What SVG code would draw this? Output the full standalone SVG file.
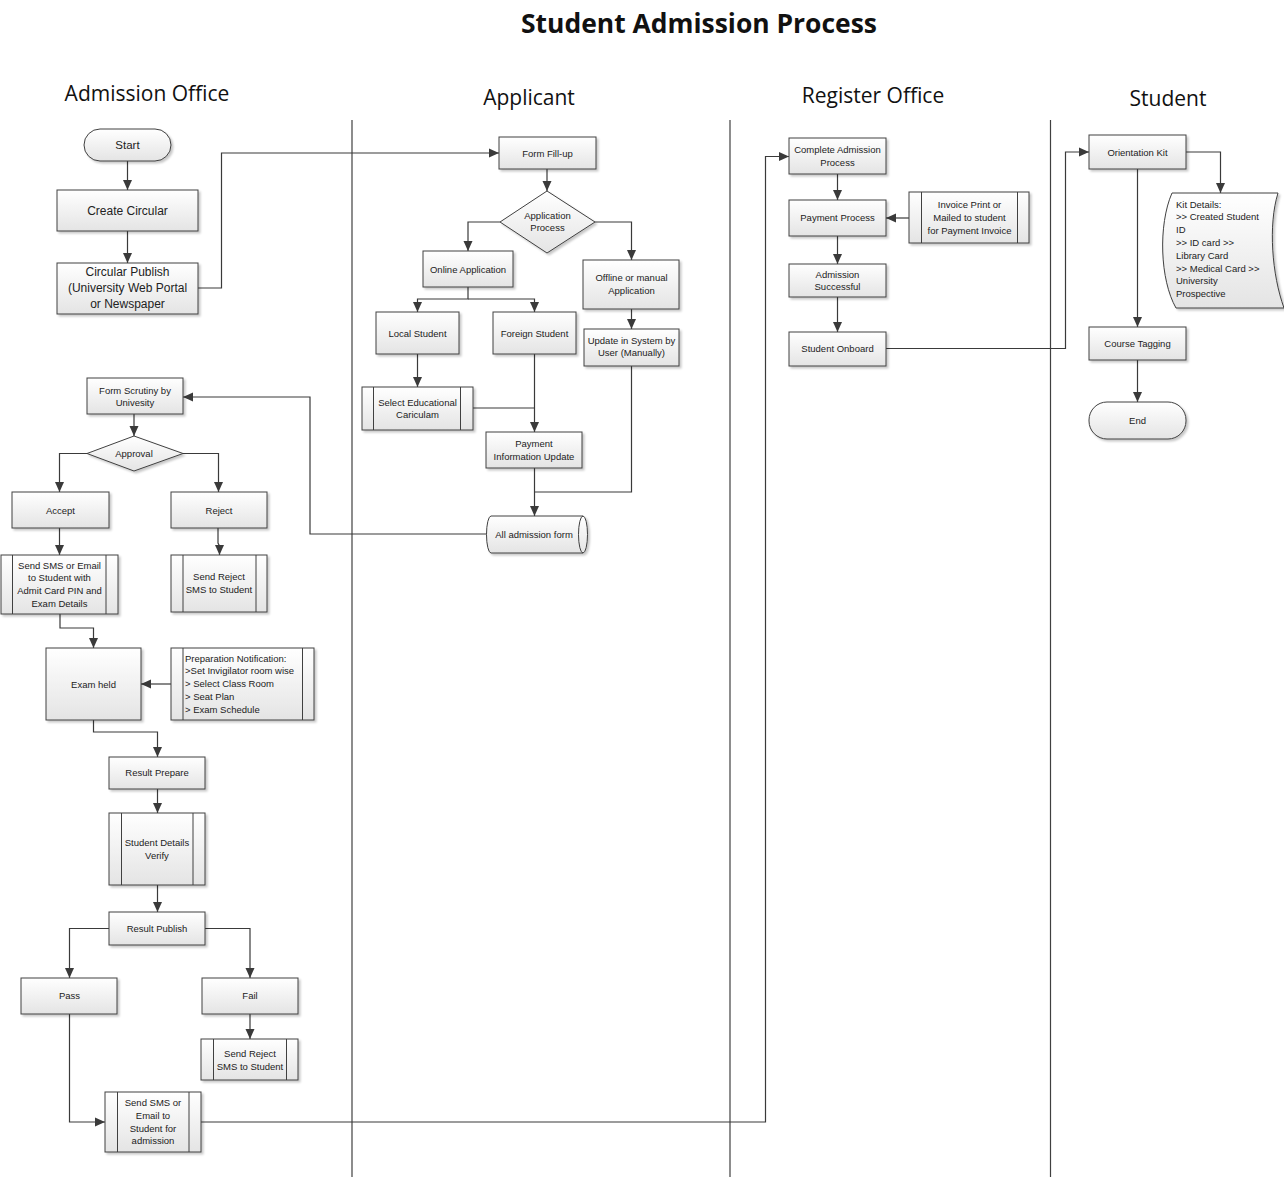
<svg xmlns="http://www.w3.org/2000/svg" width="1284" height="1179" viewBox="0 0 1284 1179">
<defs>
<linearGradient id="g" x1="0" y1="0" x2="0" y2="1">
<stop offset="0" stop-color="#ffffff"/>
<stop offset="1" stop-color="#e4e4e4"/>
</linearGradient>
<filter id="sh" x="-10%" y="-10%" width="130%" height="130%">
<feDropShadow dx="2" dy="2" stdDeviation="1" flood-color="#000" flood-opacity="0.22"/>
</filter>
<marker id="ah" markerWidth="10" markerHeight="10" refX="10" refY="5" orient="auto" markerUnits="userSpaceOnUse">
<path d="M0,0.5 L10,5 L0,9.5 z" fill="#3a3a3a"/>
</marker>
</defs>
<style>
.n{fill:url(#g);stroke:#404040;stroke-width:1;filter:url(#sh);}
.il{stroke:#404040;stroke-width:1;fill:none;}
.t{font-family:"Liberation Sans",Arial,sans-serif;font-size:9.5px;fill:#222;text-anchor:middle;}
.tl{font-family:"Liberation Sans",Arial,sans-serif;font-size:9.5px;fill:#222;text-anchor:start;}
.c{fill:none;stroke:#3a3a3a;stroke-width:1.2;marker-end:url(#ah);}
.cn{fill:none;stroke:#3a3a3a;stroke-width:1.2;}
.lane{stroke:#404040;stroke-width:1.2;}
.h{font-family:"Open Sans","Liberation Sans",sans-serif;font-size:21px;fill:#111;text-anchor:middle;}
.title{font-family:"Open Sans","Liberation Sans",sans-serif;font-size:26px;font-weight:bold;fill:#111;text-anchor:middle;}
</style>
<rect x="0" y="0" width="1284" height="1179" fill="#ffffff"/>
<text class="title" x="699" y="33" textLength="356" lengthAdjust="spacingAndGlyphs">Student Admission Process</text>
<g id="lanes">
<line class="lane" x1="352" y1="120" x2="352" y2="1177"/>
<line class="lane" x1="730" y1="120" x2="730" y2="1177"/>
<line class="lane" x1="1050.5" y1="120" x2="1050.5" y2="1177"/>
<text class="h" x="147" y="101">Admission Office</text>
<text class="h" x="529" y="105">Applicant</text>
<text class="h" x="873" y="103">Register Office</text>
<text class="h" x="1168" y="106">Student</text>
</g>
<g id="connectors">
<path class="c" d="M127.5,161 V190"/>
<path class="c" d="M127.5,231 V263"/>
<path class="c" d="M198,288 H221.5 V153 H499"/>
<path class="c" d="M547,169 V191"/>
<path class="c" d="M500,222 H468 V251"/>
<path class="c" d="M595,222 H631.5 V260"/>
<path class="c" d="M468,287 V299 H417.5 V312"/>
<path class="c" d="M468,299 H534.5 V312"/>
<path class="c" d="M631.5,309 V329"/>
<path class="c" d="M417.5,354 V387"/>
<path class="c" d="M534.5,354 V432"/>
<path class="cn" d="M473,408 H534.5"/>
<path class="c" d="M534.5,468 V516"/>
<path class="cn" d="M631.5,366 V492 H534.5"/>
<path class="c" d="M487,534 H310 V397 H183"/>
<path class="c" d="M134,414 V436"/>
<path class="c" d="M87,453.5 H59.5 V492"/>
<path class="c" d="M183,453.5 H218.5 V492"/>
<path class="c" d="M59.5,528 V555"/>
<path class="c" d="M218,528 V543 L219.5,546 V555"/>
<path class="c" d="M60,614 V628 H93.5 V648"/>
<path class="c" d="M171,684 H141"/>
<path class="c" d="M93.5,720 V732 H157.5 V757"/>
<path class="c" d="M157.5,789 V813"/>
<path class="c" d="M157.5,885 V912"/>
<path class="c" d="M109,928.5 H69.5 V978"/>
<path class="c" d="M205,928.5 H250 V978"/>
<path class="c" d="M250,1014 V1039"/>
<path class="c" d="M69.5,1014 V1122 H105"/>
<path class="c" d="M201,1122 H765.5 V156.5 H789"/>
<path class="c" d="M837.5,174 V200"/>
<path class="c" d="M909,218 H886"/>
<path class="c" d="M837.5,236 V264"/>
<path class="c" d="M837.5,297 V332"/>
<path class="c" d="M886,348.5 H1065.5 V152 H1089"/>
<path class="c" d="M1186,152 H1220.5 V193"/>
<path class="c" d="M1137.5,169 V327"/>
<path class="c" d="M1137.5,360 V402"/>
</g>
<g id="start"><rect class="n" x="84" y="129" width="87" height="32" rx="16"/><text class="t" style="font-size:11.5px" x="127.5" y="149">Start</text></g>
<g id="create-circular"><rect class="n" x="57" y="190" width="141" height="41"/><text class="t" style="font-size:12px" x="127.5" y="215">Create Circular</text></g>
<g id="circular-publish"><rect class="n" x="57" y="263" width="141" height="51"/><text class="t" style="font-size:12px" x="127.5" y="276">Circular Publish</text><text class="t" style="font-size:12px" x="127.5" y="292">(University Web Portal</text><text class="t" style="font-size:12px" x="127.5" y="308">or Newspaper</text></g>
<g id="form-scrutiny"><rect class="n" x="87" y="378" width="96" height="36"/><text class="t" x="135" y="393.5">Form Scrutiny by</text><text class="t" x="135" y="406">Univesity</text></g>
<g id="approval"><polygon class="n" points="134,436 183,453.5 134,471 87,453.5"/><text class="t" x="134" y="456.5">Approval</text></g>
<g id="accept"><rect class="n" x="12" y="492" width="97" height="36"/><text class="t" x="60.5" y="513.5">Accept</text></g>
<g id="reject"><rect class="n" x="171" y="492" width="96" height="36"/><text class="t" x="219" y="513.5">Reject</text></g>
<g id="send-sms-admit"><rect class="n" x="1" y="555" width="117" height="59"/><line class="il" x1="12.5" y1="555" x2="12.5" y2="614"/><line class="il" x1="106" y1="555" x2="106" y2="614"/><text class="t" x="59.5" y="568.5">Send SMS or Email</text><text class="t" x="59.5" y="581.3">to Student with</text><text class="t" x="59.5" y="594.1">Admit Card PIN and</text><text class="t" x="59.5" y="606.9">Exam Details</text></g>
<g id="send-reject-1"><rect class="n" x="171" y="555" width="96" height="57"/><line class="il" x1="183" y1="555" x2="183" y2="612"/><line class="il" x1="256" y1="555" x2="256" y2="612"/><text class="t" x="219" y="580">Send Reject</text><text class="t" x="219" y="592.5">SMS to Student</text></g>
<g id="exam-held"><rect class="n" x="46" y="648" width="95" height="72"/><text class="t" x="93.5" y="687.5">Exam held</text></g>
<g id="prep-notification"><rect class="n" x="171" y="648" width="143" height="72"/><line class="il" x1="183" y1="648" x2="183" y2="720"/><line class="il" x1="302.5" y1="648" x2="302.5" y2="720"/><text class="tl" x="185" y="661.5">Preparation Notification:</text><text class="tl" x="185" y="674.3">&gt;Set Invigilator room wise</text><text class="tl" x="185" y="687.1">&gt; Select Class Room</text><text class="tl" x="185" y="699.9">&gt; Seat Plan</text><text class="tl" x="185" y="712.7">&gt; Exam Schedule</text></g>
<g id="result-prepare"><rect class="n" x="109" y="757" width="96" height="32"/><text class="t" x="157" y="776">Result Prepare</text></g>
<g id="student-details-verify"><rect class="n" x="109" y="813" width="96" height="72"/><line class="il" x1="121.5" y1="813" x2="121.5" y2="885"/><line class="il" x1="193" y1="813" x2="193" y2="885"/><text class="t" x="157" y="845.5">Student Details</text><text class="t" x="157" y="858.5">Verify</text></g>
<g id="result-publish"><rect class="n" x="109" y="912" width="96" height="33"/><text class="t" x="157" y="932">Result Publish</text></g>
<g id="pass"><rect class="n" x="21" y="978" width="96" height="36"/><text class="t" x="69.5" y="999">Pass</text></g>
<g id="fail"><rect class="n" x="202" y="978" width="96" height="36"/><text class="t" x="250" y="999">Fail</text></g>
<g id="send-reject-2"><rect class="n" x="201" y="1039" width="97" height="41"/><line class="il" x1="213.5" y1="1039" x2="213.5" y2="1080"/><line class="il" x1="286.5" y1="1039" x2="286.5" y2="1080"/><text class="t" x="250" y="1056.5">Send Reject</text><text class="t" x="250" y="1069.5">SMS to Student</text></g>
<g id="send-sms-admission"><rect class="n" x="105" y="1092" width="96" height="60"/><line class="il" x1="117.5" y1="1092" x2="117.5" y2="1152"/><line class="il" x1="189" y1="1092" x2="189" y2="1152"/><text class="t" x="153" y="1106">Send SMS or</text><text class="t" x="153" y="1118.8">Email to</text><text class="t" x="153" y="1131.5">Student for</text><text class="t" x="153" y="1144.2">admission</text></g>
<g id="form-fillup"><rect class="n" x="499" y="137" width="97" height="32"/><text class="t" x="547.5" y="156.5">Form Fill-up</text></g>
<g id="application-process"><polygon class="n" points="547,191 595,222 547,253 500,222"/><text class="t" x="547.5" y="218.5">Application</text><text class="t" x="547.5" y="231">Process</text></g>
<g id="online-application"><rect class="n" x="423" y="251" width="90" height="36"/><text class="t" x="468" y="272.5">Online Application</text></g>
<g id="offline-application"><rect class="n" x="583" y="260" width="96" height="49"/><text class="t" x="631.5" y="280.8">Offline or manual</text><text class="t" x="631.5" y="293.5">Application</text></g>
<g id="local-student"><rect class="n" x="376" y="312" width="83" height="42"/><text class="t" x="417.5" y="336.5">Local Student</text></g>
<g id="foreign-student"><rect class="n" x="493" y="312" width="83" height="42"/><text class="t" x="534.5" y="336.5">Foreign Student</text></g>
<g id="update-system"><rect class="n" x="584" y="329" width="95" height="37"/><text class="t" x="631.5" y="344.2">Update in System by</text><text class="t" x="631.5" y="356.2">User (Manually)</text></g>
<g id="select-curriculum"><rect class="n" x="362" y="387" width="111" height="43"/><line class="il" x1="373.5" y1="387" x2="373.5" y2="430"/><line class="il" x1="460.5" y1="387" x2="460.5" y2="430"/><text class="t" x="417.5" y="405.5">Select Educational</text><text class="t" x="417.5" y="417.8">Cariculam</text></g>
<g id="payment-info"><rect class="n" x="486" y="432" width="96" height="36"/><text class="t" x="534" y="446.8">Payment</text><text class="t" x="534" y="459.5">Information Update</text></g>
<g id="all-admission-form"><path class="n" d="M491,516 H583 A4.5,18.5 0 0 1 583,553 H491 A4.5,18.5 0 0 1 491,516 Z"/><path class="il" d="M583,516 A4.5,18.5 0 0 0 583,553"/><text class="t" x="534" y="537.5">All admission form</text></g>
<g id="complete-admission"><rect class="n" x="789" y="138" width="97" height="36"/><text class="t" x="837.5" y="152.8">Complete Admission</text><text class="t" x="837.5" y="165.8">Process</text></g>
<g id="payment-process"><rect class="n" x="789" y="200" width="97" height="36"/><text class="t" x="837.5" y="221.2">Payment Process</text></g>
<g id="invoice"><rect class="n" x="909" y="192" width="120" height="51"/><line class="il" x1="921.5" y1="192" x2="921.5" y2="243"/><line class="il" x1="1017.5" y1="192" x2="1017.5" y2="243"/><text class="t" x="969.5" y="208.2">Invoice Print or</text><text class="t" x="969.5" y="220.8">Mailed to student</text><text class="t" x="969.5" y="233.5">for  Payment Invoice</text></g>
<g id="admission-successful"><rect class="n" x="789" y="264" width="97" height="33"/><text class="t" x="837.5" y="277.5">Admission</text><text class="t" x="837.5" y="289.8">Successful</text></g>
<g id="student-onboard"><rect class="n" x="789" y="332" width="97" height="34"/><text class="t" x="837.5" y="351.8">Student Onboard</text></g>
<g id="orientation-kit"><rect class="n" x="1089" y="135" width="97" height="34"/><text class="t" x="1137.5" y="155.5">Orientation Kit</text></g>
<g id="kit-details"><path class="n" d="M1172,193 H1278 C1268,225 1272,275 1284,308 H1176 C1160,280 1158,225 1172,193 Z"/><text class="tl" x="1176" y="207.5">Kit Details:</text><text class="tl" x="1176" y="220.3">&gt;&gt; Created Student</text><text class="tl" x="1176" y="233.1">ID</text><text class="tl" x="1176" y="245.9">&gt;&gt; ID card  &gt;&gt;</text><text class="tl" x="1176" y="258.7">Library Card</text><text class="tl" x="1176" y="271.5">&gt;&gt; Medical Card &gt;&gt;</text><text class="tl" x="1176" y="284.3">University</text><text class="tl" x="1176" y="297.1">Prospective</text></g>
<g id="course-tagging"><rect class="n" x="1089" y="327" width="97" height="33"/><text class="t" x="1137.5" y="347">Course Tagging</text></g>
<g id="end"><rect class="n" x="1089" y="402" width="97" height="37" rx="18"/><text class="t" x="1137.5" y="424">End</text></g>
</svg>
